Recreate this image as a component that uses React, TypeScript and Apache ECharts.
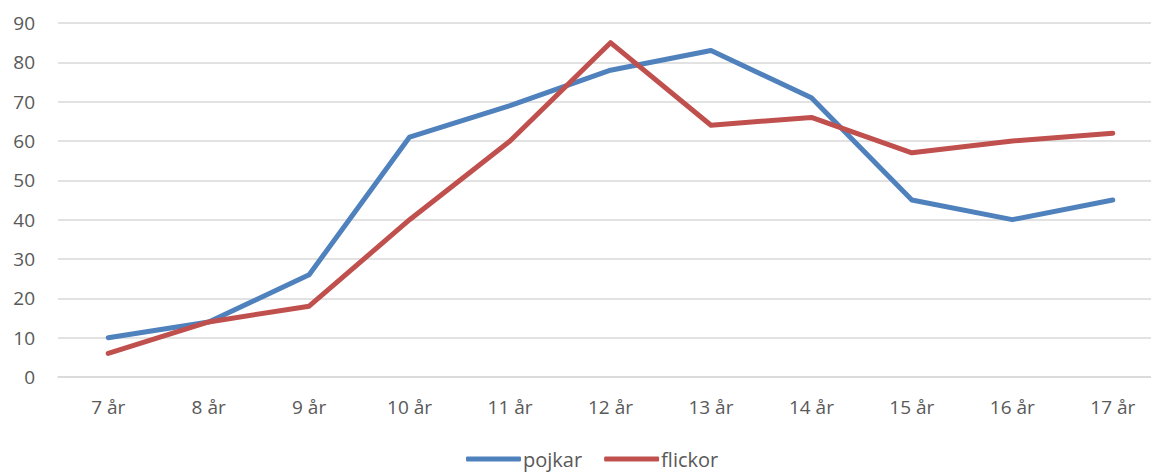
import React, { useEffect, useRef } from "react";
import * as echarts from "echarts";

const categories = ["7 år", "8 år", "9 år", "10 år", "11 år", "12 år", "13 år", "14 år", "15 år", "16 år", "17 år"];
const pojkar = [10, 14, 26, 61, 69, 78, 83, 71, 45, 40, 45];
const flickor = [6, 14, 18, 40, 60, 85, 64, 66, 57, 60, 62];

export default function App() {
  const ref = useRef<HTMLDivElement>(null);
  useEffect(() => {
    const chart = echarts.init(ref.current!, null, { renderer: "svg" });
    const font = "'Open Sans', sans-serif";
    chart.setOption({
      animation: false,
      textStyle: { fontFamily: font },
      grid: { left: 58, top: 23, width: 1105, height: 354, containLabel: false },
      legend: {
        left: 466,
        top: 449,
        padding: 0,
        itemWidth: 55,
        itemHeight: 5,
        itemGap: 22,
        icon: "roundRect",
        textStyle: { fontFamily: font, fontSize: 20, color: "#595959", padding: [0, 0, 0, -3] },
        data: ["pojkar", "flickor"],
      },
      xAxis: {
        type: "category",
        data: categories,
        boundaryGap: true,
        axisLine: { show: true, lineStyle: { color: "#d9d9d9", width: 1.5 } },
        axisTick: { show: false },
        axisLabel: { color: "#595959", fontSize: 19, margin: 20, fontFamily: font },
      },
      yAxis: {
        type: "value",
        min: 0,
        max: 90,
        interval: 10,
        axisLine: { show: false },
        axisTick: { show: false },
        splitLine: { lineStyle: { color: "#d9d9d9", width: 1.5 } },
        axisLabel: { color: "#595959", fontSize: 19, margin: 23, fontFamily: font },
      },
      series: [
        {
          name: "pojkar",
          type: "line",
          data: pojkar,
          symbol: "none",
          color: "#4F81BD",
          lineStyle: { width: 5, color: "#4F81BD", cap: "round", join: "round" },
        },
        {
          name: "flickor",
          type: "line",
          data: flickor,
          symbol: "none",
          color: "#C0504D",
          lineStyle: { width: 5, color: "#C0504D", cap: "round", join: "round" },
        },
      ],
    });
    return () => chart.dispose();
  }, []);
  return (
    <div style={{ position: "absolute", left: 0, top: 0, width: 1151, height: 472, overflow: "hidden", background: "#fff" }}>
      <div ref={ref} style={{ width: 1170, height: 472 }} />
    </div>
  );
}
